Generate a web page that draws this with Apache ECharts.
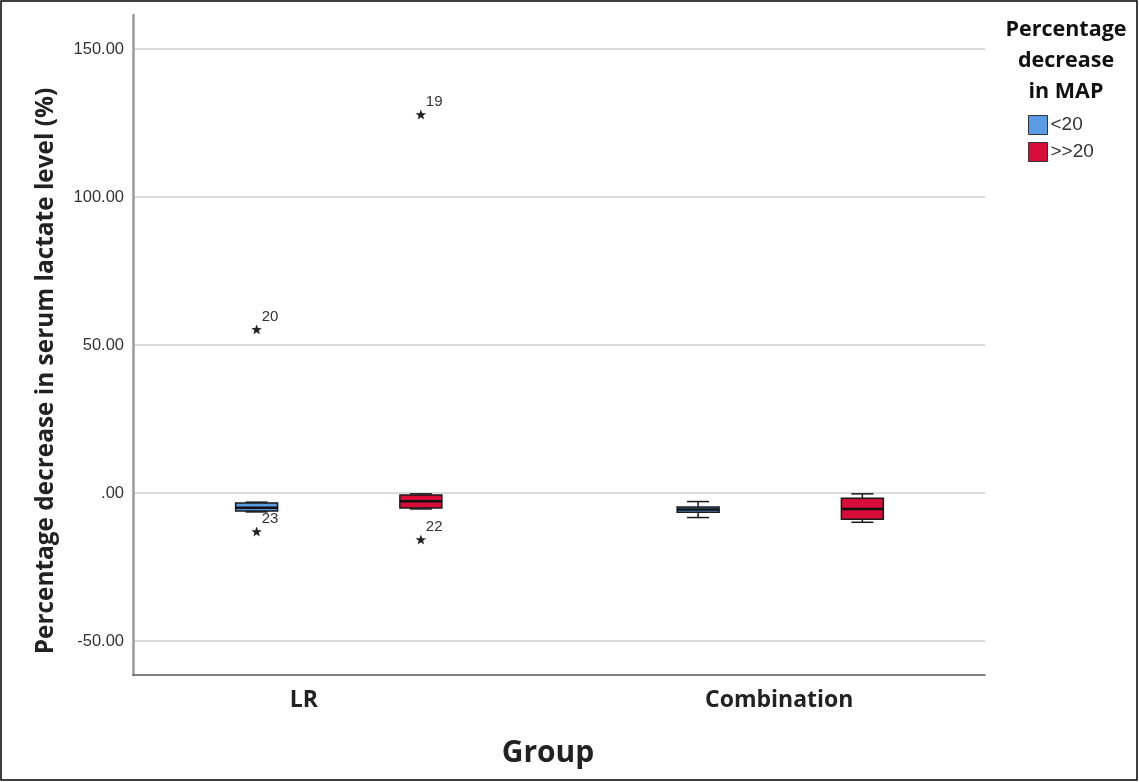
<!DOCTYPE html>
<html><head><meta charset="utf-8">
<script src="https://cdn.jsdelivr.net/npm/echarts@6/dist/echarts.min.js"></script>
<style>html,body{margin:0;padding:0;background:#fff}#c{width:1139px;height:782px}</style>
</head><body><div id="c"></div>
<script>
const categories = ['LR', 'Combination'];
const groupNames = ['<20', '>>20'];
// [min, Q1, median, Q3, max] per category
const boxLow = [[-6.4, -6.1, -5.0, -3.4, -3.1], [-8.3, -6.5, -5.6, -4.7, -2.9]];
const boxHigh = [[-5.4, -5.1, -2.8, -0.7, -0.3], [-9.9, -8.9, -5.4, -1.8, -0.3]];
// [categoryIndex, value, case label]
const outliersLow = [[0, 55.1, '20'], [0, -13.2, '23']];
const outliersHigh = [[0, 127.7, '19'], [0, -15.9, '22']];

const colors = ['#5b9be6', '#d70d38'];
const yMin = -61.5, yMax = 161.5;
const bold = "'Open Sans', 'DejaVu Sans', sans-serif";
const plain = "'Liberation Sans', Arial, sans-serif";

function boxRender(sign, fill) {
  return function (params, api) {
    const cat = api.value(0);
    const band = api.size([1, 0])[0];
    const cx = api.coord([cat, 0])[0] + sign * band * 0.186;
    const bw = band * 0.095, cap = band * 0.05;
    const y = i => api.coord([cat, api.value(i)])[1];
    const yLo = y(1), yQ1 = y(2), yMed = y(3), yQ3 = y(4), yHi = y(5);
    const ls = { stroke: '#1a1a1a', lineWidth: 1.5 };
    return {
      type: 'group', children: [
        { type: 'line', shape: { x1: cx, y1: yHi, x2: cx, y2: yQ3 }, style: ls },
        { type: 'line', shape: { x1: cx, y1: yQ1, x2: cx, y2: yLo }, style: ls },
        { type: 'line', shape: { x1: cx - cap / 2, y1: yHi, x2: cx + cap / 2, y2: yHi }, style: ls },
        { type: 'line', shape: { x1: cx - cap / 2, y1: yLo, x2: cx + cap / 2, y2: yLo }, style: ls },
        { type: 'rect', shape: { x: cx - bw / 2, y: yQ3, width: bw, height: yQ1 - yQ3 }, style: { fill: fill, stroke: '#1a1a1a', lineWidth: 1.5 } },
        { type: 'line', shape: { x1: cx - bw / 2, y1: yMed, x2: cx + bw / 2, y2: yMed }, style: { stroke: '#111', lineWidth: 2.5 } }
      ]
    };
  };
}

function starRender(sign) {
  return function (params, api) {
    const cat = api.value(0);
    const band = api.size([1, 0])[0];
    const p = api.coord([cat, api.value(1)]);
    const cx = p[0] + sign * band * 0.186, cy = p[1];
    const pts = [];
    for (let k = 0; k < 10; k++) {
      const r = k % 2 === 0 ? 5.5 : 2.3;
      const a = -Math.PI / 2 + k * Math.PI / 5;
      pts.push([cx + r * Math.cos(a), cy + r * Math.sin(a)]);
    }
    return {
      type: 'group', children: [
        { type: 'polygon', shape: { points: pts }, style: { fill: '#222' } },
        { type: 'text', x: cx + 5, y: cy - 6, style: { text: api.value(2), fill: '#333', font: '15px ' + plain, textVerticalAlign: 'bottom', textAlign: 'left' } }
      ]
    };
  };
}

const chart = echarts.init(document.getElementById('c'));
chart.setOption({
  animation: false,
  backgroundColor: '#fff',
  grid: [
    { left: 133, right: 154, top: 15, bottom: 107 },
    { left: 118, right: 138, top: 15, bottom: 107 }
  ],
  xAxis: [
    { type: 'category', gridIndex: 0, data: categories, axisLine: { onZero: false, lineStyle: { color: '#555', width: 1.5 } }, axisTick: { show: false }, axisLabel: { show: false } },
    {
      type: 'category', gridIndex: 1, data: categories, axisLine: { show: false, onZero: false }, axisTick: { show: false },
      axisLabel: {
        margin: 14,
        formatter: (v, i) => i === 0 ? '{a|' + v + '}' : '{b|' + v + '}',
        rich: {
          a: { fontFamily: bold, fontWeight: 'bold', fontSize: 23, color: '#222', padding: [0, 70, 0, 0] },
          b: { fontFamily: bold, fontWeight: 'bold', fontSize: 23, color: '#222', padding: [0, 2, 0, 0] }
        }
      }
    }
  ],
  yAxis: [
    {
      type: 'value', gridIndex: 0, min: yMin, max: yMax,
      axisLine: { show: true, lineStyle: { color: '#999', width: 2.5 } },
      axisTick: { show: false },
      splitLine: { show: true, showMinLine: false, showMaxLine: false, lineStyle: { color: '#cfcfcf', width: 1.5 } },
      axisLabel: { showMinLabel: false, showMaxLabel: false, margin: 9, color: '#333', fontSize: 16.5, fontFamily: plain,
        formatter: v => v === 0 ? '.00' : v.toFixed(2) }
    },
    { type: 'value', gridIndex: 1, min: yMin, max: yMax, show: false, splitLine: { show: false } }
  ],
  legend: {
    orient: 'vertical', left: 1028, top: 115, icon: 'rect', itemWidth: 19, itemHeight: 19, itemGap: 7, padding: 0,
    textStyle: { fontSize: 19, color: '#333', fontFamily: plain, padding: [0, 0, 0, -2] },
    data: [
      { name: groupNames[0], itemStyle: { color: colors[0], borderColor: '#333', borderWidth: 1 } },
      { name: groupNames[1], itemStyle: { color: colors[1], borderColor: '#333', borderWidth: 1 } }
    ]
  },
  graphic: [
    { type: 'rect', shape: { x: 1, y: 1, width: 1136, height: 779 }, style: { fill: 'none', stroke: '#000', lineWidth: 1.5 }, silent: true },
    { type: 'text', x: 1066, y: 14.5, style: { text: 'Percentage\ndecrease\nin MAP', font: 'bold 21.5px ' + bold, fill: '#111', textAlign: 'center', textVerticalAlign: 'top', lineHeight: 31 } },
    { type: 'text', x: 548, y: 753, style: { text: 'Group', font: 'bold 30px ' + bold, fill: '#222', textAlign: 'center', textVerticalAlign: 'middle' } },
    { type: 'text', x: 46, y: 371, rotation: Math.PI / 2, style: { text: 'Percentage decrease in serum lactate level (%)', font: 'bold 24.4px ' + bold, fill: '#222', textAlign: 'center', textVerticalAlign: 'middle' } }
  ],
  series: [
    { name: groupNames[0], type: 'custom', xAxisIndex: 1, yAxisIndex: 1, itemStyle: { color: colors[0] },
      renderItem: boxRender(-1, colors[0]), encode: { x: 0, y: [1, 2, 3, 4, 5] },
      data: boxLow.map((b, i) => [i].concat(b)) },
    { name: groupNames[1], type: 'custom', xAxisIndex: 1, yAxisIndex: 1, itemStyle: { color: colors[1] },
      renderItem: boxRender(1, colors[1]), encode: { x: 0, y: [1, 2, 3, 4, 5] },
      data: boxHigh.map((b, i) => [i].concat(b)) },
    { name: 'out1', type: 'custom', xAxisIndex: 1, yAxisIndex: 1, renderItem: starRender(-1), encode: { x: 0, y: 1 }, data: outliersLow },
    { name: 'out2', type: 'custom', xAxisIndex: 1, yAxisIndex: 1, renderItem: starRender(1), encode: { x: 0, y: 1 }, data: outliersHigh }
  ]
});
</script></body></html>
